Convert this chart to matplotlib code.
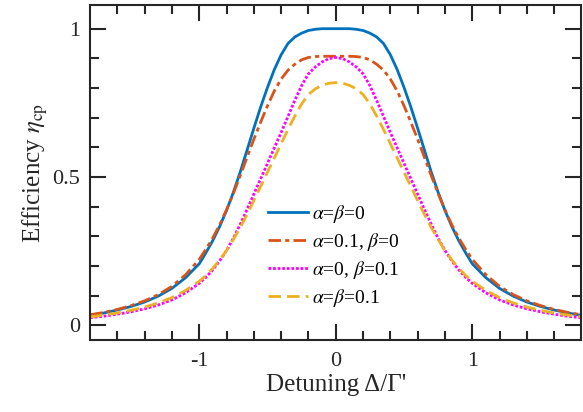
import numpy as np
import matplotlib
matplotlib.use("Agg")
import matplotlib.pyplot as plt

plt.rcParams['font.family'] = ['Liberation Serif', 'DejaVu Serif']
plt.rcParams['mathtext.fontset'] = 'stix'
plt.rcParams['axes.unicode_minus'] = False

# half profiles (curves are symmetric in detuning)
x_half = [0.00, 0.05, 0.10, 0.15, 0.20, 0.25, 0.30, 0.35, 0.40, 0.45, 0.50,
          0.55, 0.60, 0.65, 0.70, 0.75, 0.80, 0.85, 0.90, 0.95, 1.00,
          1.10, 1.20, 1.30, 1.40, 1.50, 1.60, 1.70, 1.80]
eta_a0_b0 = [1.000, 1.000, 1.000, 0.998, 0.994, 0.985, 0.972, 0.950, 0.912, 0.862, 0.802,
             0.736, 0.664, 0.590, 0.516, 0.448, 0.387, 0.333, 0.286, 0.245, 0.207,
             0.160, 0.124, 0.098, 0.078, 0.063, 0.051, 0.041, 0.033]
eta_a01_b0 = [0.907, 0.907, 0.907, 0.906, 0.903, 0.895, 0.880, 0.860, 0.830, 0.790, 0.740,
              0.685, 0.627, 0.566, 0.504, 0.444, 0.389, 0.339, 0.295, 0.257, 0.222,
              0.170, 0.131, 0.103, 0.082, 0.066, 0.053, 0.043, 0.035]
eta_a0_b01 = [0.903, 0.899, 0.888, 0.871, 0.848, 0.808, 0.758, 0.704, 0.650, 0.598, 0.546,
              0.494, 0.442, 0.390, 0.340, 0.293, 0.252, 0.217, 0.187, 0.162, 0.141,
              0.109, 0.085, 0.068, 0.055, 0.045, 0.037, 0.030, 0.025]
eta_a01_b01 = [0.818, 0.816, 0.809, 0.797, 0.778, 0.746, 0.705, 0.660, 0.612, 0.564, 0.516,
               0.468, 0.420, 0.373, 0.329, 0.289, 0.252, 0.220, 0.192, 0.168, 0.148,
               0.117, 0.093, 0.075, 0.061, 0.050, 0.041, 0.034, 0.028]

labels = [r'$\alpha$=$\beta$=0', r'$\alpha$=0.1, $\beta$=0',
          r'$\alpha$=0, $\beta$=0.1', r'$\alpha$=$\beta$=0.1']
colors = ['#0072BD', '#D95319', '#FF00FF', '#EDB120']
styles = ['-', (0, (4.5, 1.5, 1.5, 1.5)), (0, (1, 0.65)), (0, (4.5, 2.2))]


def mirror(v):
    v = np.asarray(v)
    return np.concatenate([v[::-1], v[1:]])


xh = np.asarray(x_half)
x = np.concatenate([-xh[::-1], xh[1:]])

fig = plt.figure(figsize=(5.83, 4.12), dpi=100)
ax = fig.add_axes([0.1544, 0.1748, 0.8430, 0.8131])

for ys, c, ls, lab in zip([eta_a0_b0, eta_a01_b0, eta_a0_b01, eta_a01_b01],
                          colors, styles, labels):
    ax.plot(x, mirror(ys), color=c, linestyle=ls, lw=2.0, label=lab)

ax.set_xlim(-1.8, 1.8)
ax.set_ylim(-0.05, 1.08)
ax.set_xticks([-1, 0, 1])
ax.set_xticklabels(['-1', '0', '1'])
ax.set_yticks([0, 0.5, 1])
ax.set_yticklabels(['0', '0.5', '1'])
ax.set_xticks(np.arange(-1.6, 1.7, 0.2), minor=True)
ax.set_yticks(np.arange(0, 1.05, 0.1), minor=True)

axc = '#262626'
for s in ax.spines.values():
    s.set_linewidth(1.5)
    s.set_color(axc)
ax.tick_params(which='both', direction='in', top=True, right=True,
               color=axc, labelcolor=axc, width=1.5, labelsize=16)
ax.tick_params(which='major', length=11.5)
ax.tick_params(which='minor', length=6.5)
ax.tick_params(axis='x', pad=9)
ax.tick_params(axis='y', pad=7)

ax.set_xlabel("Detuning \u0394/\u0393'", fontsize=18, color=axc, labelpad=2)
ax.set_ylabel(r'Efficiency $\eta_{\rm cp}$', fontsize=18, color=axc, labelpad=2)

ax.legend(loc='upper left', bbox_to_anchor=(0.362, 0.408), frameon=False,
          fontsize=14, handlelength=2.05, handletextpad=0.2, labelspacing=0.3,
          borderpad=0, borderaxespad=0)

fig.savefig('out.png', dpi=100)
